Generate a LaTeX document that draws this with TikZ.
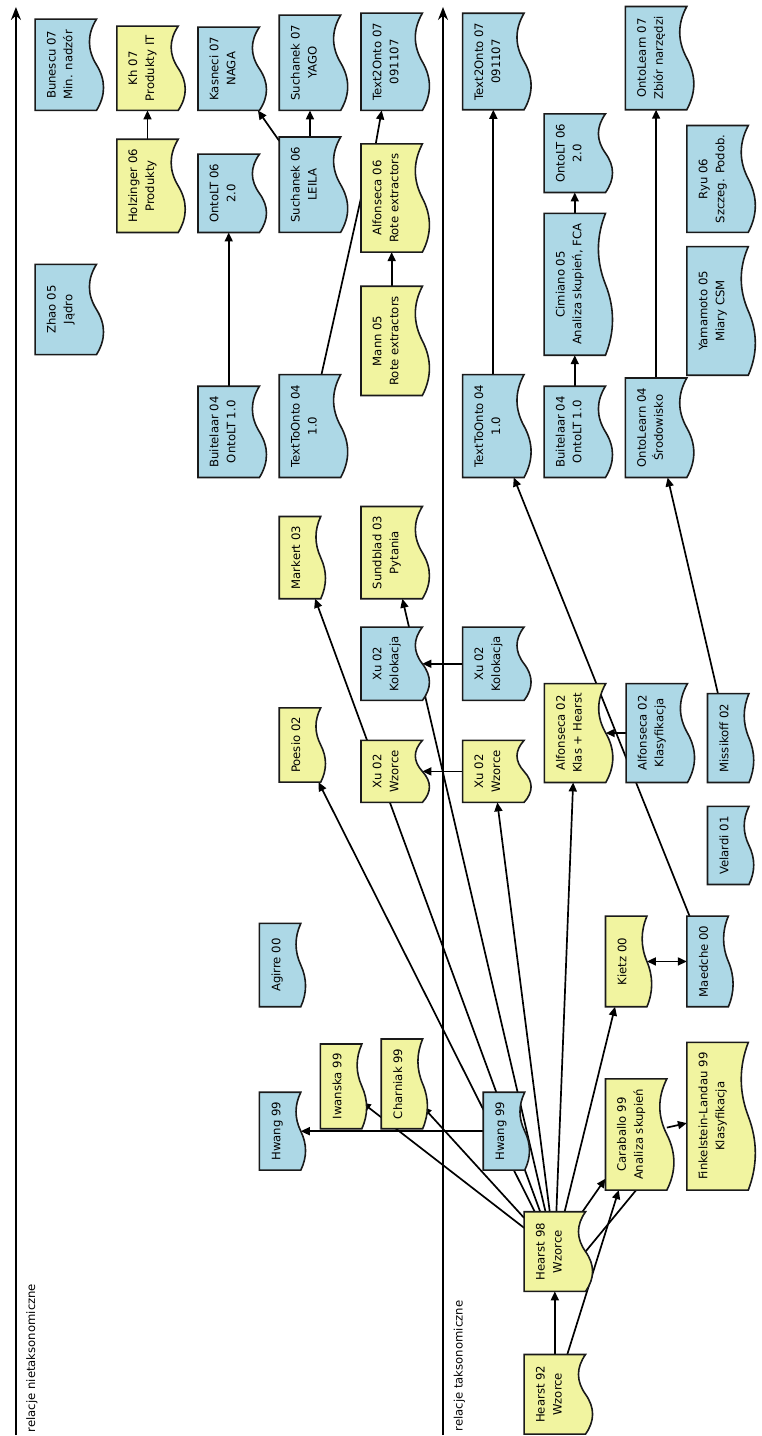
\documentclass[tikz,border=0pt]{standalone}
\usepackage{fontspec}
\setmainfont{DejaVu Sans}
\usepackage{xcolor}
\definecolor{DocBlue}{HTML}{ADD8E6}
\definecolor{DocYellow}{HTML}{F1F4A0}
\definecolor{EdgeInk}{HTML}{1A1A1A}
\usepackage{tikz}
\usetikzlibrary{arrows.meta}

% page with a wavy bottom edge (drawn turned, so the wave ends up on the right)
\makeatletter
\pgfdeclareshape{docpage}{%
  \inheritsavedanchors[from=rectangle]
  \inheritanchorborder[from=rectangle]
  \inheritanchor[from=rectangle]{center}
  \inheritanchor[from=rectangle]{north}
  \inheritanchor[from=rectangle]{south}
  \inheritanchor[from=rectangle]{east}
  \inheritanchor[from=rectangle]{west}
  \inheritanchor[from=rectangle]{north east}
  \inheritanchor[from=rectangle]{north west}
  \inheritanchor[from=rectangle]{south east}
  \inheritanchor[from=rectangle]{south west}
  \backgroundpath{%
    \southwest \edef\docxa{\the\pgf@x}\edef\docya{\the\pgf@y}%
    \northeast \edef\docxb{\the\pgf@x}\edef\docyb{\the\pgf@y}%
    \pgfmathsetlengthmacro\docamp{0.153*((\docyb)-(\docya))}%
    \pgfmathsetlengthmacro\docstep{((\docxb)-(\docxa))/6}%
    \pgfmathsetlengthmacro\docxm{((\docxa)+(\docxb))/2}%
    \pgfpathmoveto{\pgfpoint{\docxa}{\docyb}}%
    \pgfpathlineto{\pgfpoint{\docxb}{\docyb}}%
    \pgfpathlineto{\pgfpoint{\docxb}{\docya}}%
    \pgfpathcurveto{\pgfpoint{\docxb-\docstep}{\docya+\docamp}}%
      {\pgfpoint{\docxm+\docstep}{\docya+\docamp}}{\pgfpoint{\docxm}{\docya}}%
    \pgfpathcurveto{\pgfpoint{\docxm-\docstep}{\docya-\docamp}}%
      {\pgfpoint{\docxa+\docstep}{\docya-\docamp}}{\pgfpoint{\docxa}{\docya}}%
    \pgfpathclose
  }%
}
\makeatother

\pgfdeclarelayer{paper}
\pgfdeclarelayer{edges}
\pgfsetlayers{paper,edges,main}

\begin{document}
\begin{tikzpicture}[
    x=1pt, y=-1pt,
    txt/.style={font=\fontsize{11.7}{17}\selectfont},
    doc/.style={shape=docpage, draw=EdgeInk, line width=1.6pt, rotate=90, txt,
                align=center, inner sep=0pt},
    twoline/.style={doc, minimum height=60pt, text height=26pt, text depth=12.6pt},
    oneline/.style={doc, minimum height=40pt, text height=9pt, text depth=8.6pt},
    len/.style={minimum width=#1},
    bluedoc/.style={fill=DocBlue},
    yellowdoc/.style={fill=DocYellow},
    arr/.style={-{Triangle[length=9pt,width=8pt]}, line width=1.7pt},
    arrboth/.style={{Triangle[length=9pt,width=8pt]}-{Triangle[length=9pt,width=8pt]}, line width=1.7pt},
    link/.style={line width=1.7pt},
    axis/.style={-{Stealth[length=13pt,width=10pt]}, line width=1.7pt},
    axislabel/.style={txt, rotate=90, anchor=east, inner sep=0pt}
  ]
  \begin{pgfonlayer}{paper}
    \path[use as bounding box, fill=white] (0,0) rectangle (764,1436);
  \end{pgfonlayer}

  % time axes
  \coordinate (nontax foot) at (16,1440);
  \coordinate (nontax head) at (16,7);
  \coordinate (tax foot) at (444.5,1440);
  \coordinate (tax head) at (444.5,7);
  \node[axislabel] (nontaxlabel) at (32,1288) {relacje nietaksonomiczne};
  \node[axislabel] (taxlabel) at (461,1305) {relacje taksonomiczne};

  % non-taxonomic relations
  \node[twoline, bluedoc, len=90] (bunescu07) at (66,65) {Bunescu 07\\Min. nadzór};
  \node[twoline, bluedoc, len=89] (zhao05) at (66,310.5) {Zhao 05\\Jądro};
  \node[twoline, yellowdoc, len=83] (kh07) at (148,68.5) {Kh 07\\Produkty IT};
  \node[twoline, yellowdoc, len=92] (holzinger06) at (148,186.5) {Holzinger 06\\Produkty};
  \node[twoline, bluedoc, len=82] (kasneci07) at (229.5,69) {Kasneci 07\\NAGA};
  \node[twoline, bluedoc, len=77] (ontolt06l) at (229.5,194) {OntoLT 06\\2.0};
  \node[twoline, bluedoc, len=90] (buitelaar04l) at (229.5,433.3) {Buitelaar 04\\OntoLT 1.0};
  \node[twoline, bluedoc, len=94] (suchanek07) at (311,63) {Suchanek 07\\YAGO};
  \node[twoline, bluedoc, len=94] (suchanek06) at (311,185.3) {Suchanek 06\\LEILA};
  \node[twoline, bluedoc, len=101.6] (texttoonto04l) at (311,427.5) {TextToOnto 04\\1.0};
  \node[twoline, bluedoc, len=96] (text2onto07l) at (393,62) {Text2Onto 07\\091107};
  \node[twoline, yellowdoc, len=107] (alfonseca06) at (393,198.7) {Alfonseca 06\\Rote extractors};
  \node[twoline, yellowdoc, len=108] (mann05) at (393,342) {Mann 05\\Rote extractors};
  \node[oneline, yellowdoc, len=81] (markert03) at (301,559.5) {Markert 03};
  \node[oneline, yellowdoc, len=73] (poesio02) at (301,747.5) {Poesio 02};
  \node[twoline, yellowdoc, len=91] (sundblad03) at (393,554.5) {Sundblad 03\\Pytania};
  \node[twoline, bluedoc, len=72] (xukolokacjal) at (393,666) {Xu 02\\Kolokacja};
  \node[twoline, yellowdoc, len=60.6] (xuwzorcel) at (393,774) {Xu 02\\Wzorce};
  \node[oneline, bluedoc, len=82] (agirre00) at (281,968.3) {Agirre 00};
  \node[oneline, bluedoc, len=76.6] (hwang99l) at (281,1135) {Hwang 99};
  \node[oneline, yellowdoc, len=83.4] (iwanska99) at (342.3,1090) {Iwanska 99};
  \node[oneline, yellowdoc, len=88.4] (charniak99) at (403.3,1087.5) {Charniak 99};

  % taxonomic relations
  \node[twoline, bluedoc, len=95.3] (text2onto07r) at (495,61.7) {Text2Onto 07\\091107};
  \node[twoline, bluedoc, len=101.6] (texttoonto04r) at (495,427.5) {TextToOnto 04\\1.0};
  \node[twoline, bluedoc, len=77.3] (ontolt06r) at (576.7,153.7) {OntoLT 06\\2.0};
  \node[twoline, bluedoc, len=140.7] (cimiano05) at (576.7,285.3) {Cimiano 05\\Analiza skupień, FCA};
  \node[twoline, bluedoc, len=90] (buitelaar04r) at (576.7,433.3) {Buitelaar 04\\OntoLT 1.0};
  \node[twoline, bluedoc, len=102] (ontolearn07) at (658.3,58.3) {OntoLearn 07\\Zbiór narzędzi};
  \node[twoline, bluedoc, len=98.3] (ontolearn04) at (658.3,429.2) {OntoLearn 04\\Środowisko};
  \node[twoline, bluedoc, len=105.6] (ryu06) at (720,179.5) {Ryu 06\\Szczeg. Podob.};
  \node[twoline, bluedoc, len=127.4] (yamamoto05) at (720,312) {Yamamoto 05\\Miary CSM};
  \node[twoline, bluedoc, len=72] (xukolokacjar) at (495,666) {Xu 02\\Kolokacja};
  \node[twoline, yellowdoc, len=60.6] (xuwzorcer) at (495,774) {Xu 02\\Wzorce};
  \node[twoline, yellowdoc, len=97.6] (alfonseca02h) at (577,735.5) {Alfonseca 02\\Klas + Hearst};
  \node[twoline, bluedoc, len=97.6] (alfonseca02k) at (659,735.5) {Alfonseca 02\\Klasyfikacja};
  \node[oneline, bluedoc, len=87.6] (missikoff02) at (730.7,740.5) {Missikoff 02};
  \node[oneline, bluedoc, len=76.7] (velardi01) at (730.7,848.3) {Velardi 01};
  \node[oneline, yellowdoc, len=89.3] (kietz00) at (628.3,964.7) {Kietz 00};
  \node[oneline, bluedoc, len=89.3] (maedche00) at (710,964.7) {Maedche 00};
  \node[oneline, bluedoc, len=76.6] (hwang99r) at (505.7,1135) {Hwang 99};
  \node[twoline, yellowdoc, len=110] (caraballo99) at (638.3,1138.3) {Caraballo 99\\Analiza skupień};
  \node[twoline, yellowdoc, len=146.6] (finkelstein99) at (720,1120) {Finkelstein-Landau 99\\Klasyfikacja};
  \node[twoline, yellowdoc, len=78.3] (hearst98) at (556.7,1255.8) {Hearst 98\\Wzorce};
  \node[twoline, yellowdoc, len=78.3] (hearst92) at (556.7,1399) {Hearst 92\\Wzorce};

  \begin{pgfonlayer}{edges}
    \draw[axis] (nontax foot) -- (nontax head);
    \draw[axis] (tax foot) -- (tax head);

    \draw[arr] (holzinger06) -- (kh07);
    \draw[arr] (buitelaar04l) -- (ontolt06l);
    \draw[arr] (suchanek06) -- (kasneci07);
    \draw[arr] (suchanek06) -- (suchanek07);
    \draw[arr] (mann05) -- (alfonseca06);
    \draw[arr] ([xshift=-16pt]alfonseca06.east) -- ([xshift=-10pt]text2onto07l.west);
    \draw[link] (texttoonto04l) -- (alfonseca06.north);

    \draw[arr] (texttoonto04r) -- (text2onto07r);
    \draw[arr] (buitelaar04r) -- (cimiano05);
    \draw[arr] (cimiano05) -- (ontolt06r);
    \draw[arr] (ontolearn04) -- (ontolearn07);
    \draw[arr] (missikoff02) -- (ontolearn04);
    \draw[arr] (maedche00) -- (texttoonto04r);
    \draw[arrboth] (kietz00) -- (maedche00);
    \draw[arr] (alfonseca02k) -- (alfonseca02h);
    \draw[arr] (xukolokacjar) -- (xukolokacjal);
    \draw[arr] (xuwzorcer) -- (xuwzorcel);
    \draw[arr] (hwang99r) -- (hwang99l);

    % everything that grew out of Hearst
    \foreach \dst in {iwanska99, charniak99, poesio02, markert03, sundblad03,
                      xuwzorcer, alfonseca02h, kietz00, caraballo99}
      \draw[arr] (hearst98) -- (\dst);
    \draw[link] (hearst98.south) -- (caraballo99.west);
    \draw[arr] (caraballo99) -- (finkelstein99);
    \draw[arr] (hearst92) -- (hearst98);
    \draw[arr] (hearst92) -- (caraballo99);
  \end{pgfonlayer}
\end{tikzpicture}
\end{document}
